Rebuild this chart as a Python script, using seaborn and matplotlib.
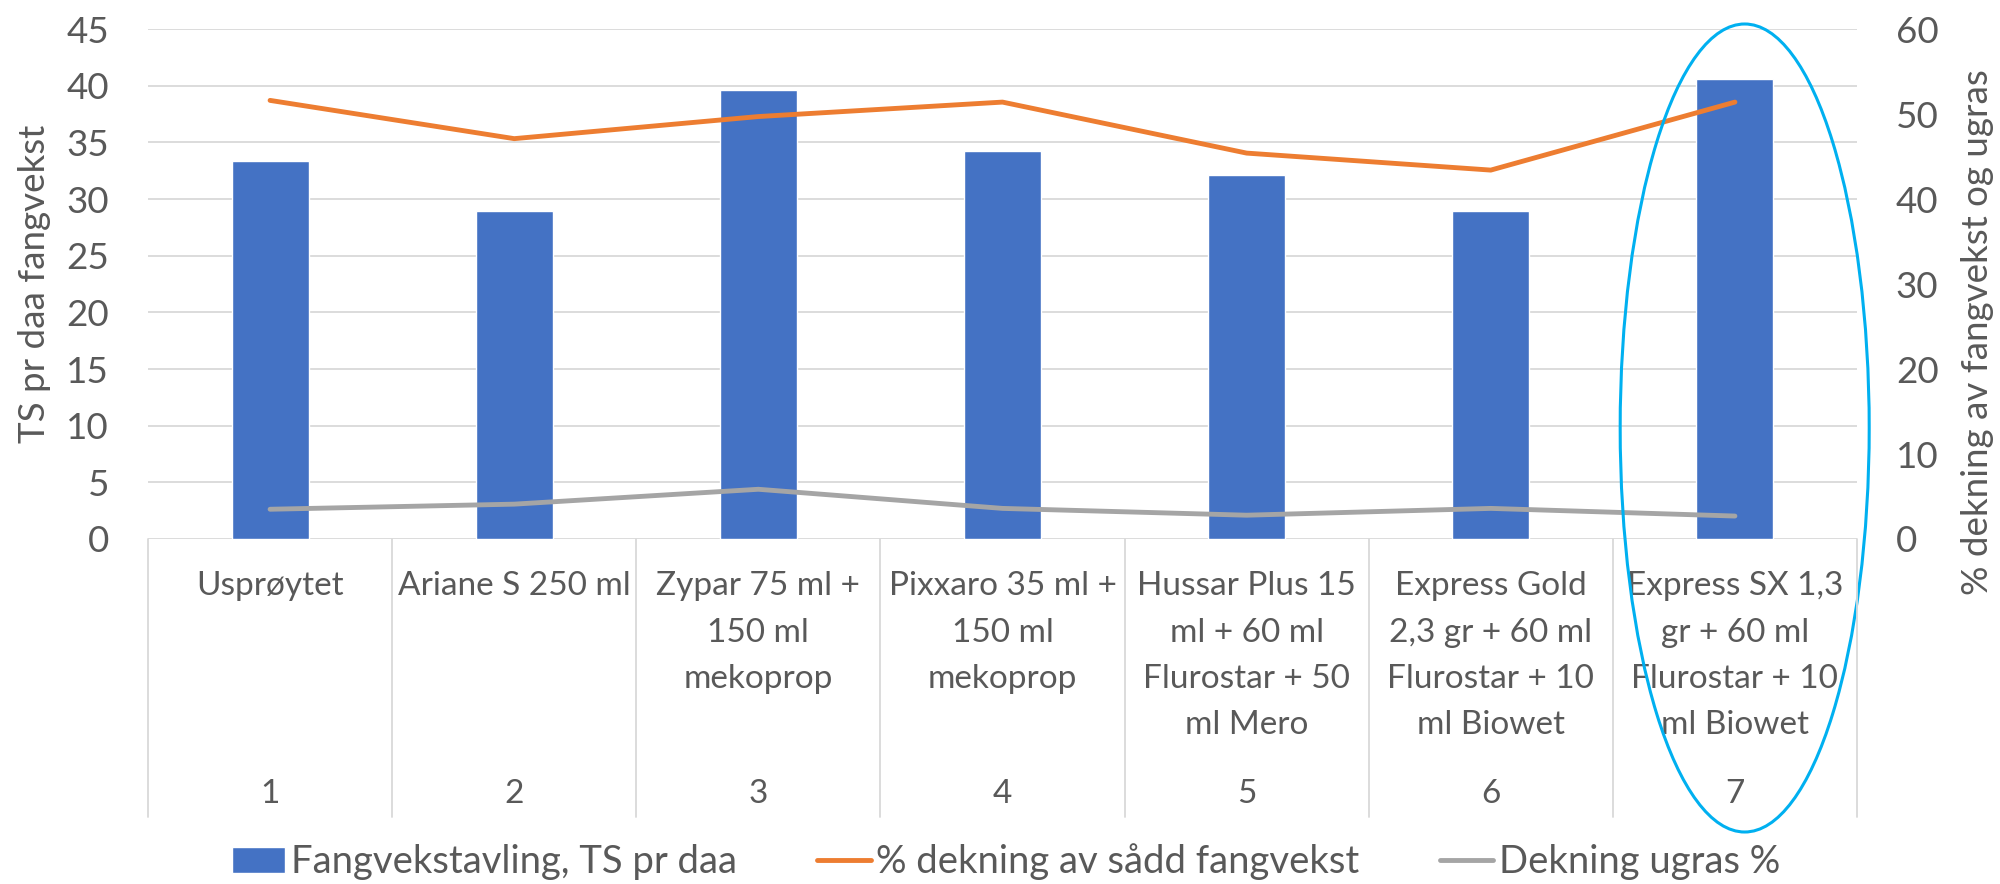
import numpy as np
import pandas as pd
import matplotlib
matplotlib.use("Agg")
import matplotlib.pyplot as plt
import matplotlib.transforms as mtransforms
from matplotlib.patches import Ellipse
from matplotlib.lines import Line2D
import seaborn as sns

# data
behandling = [
    "Usprøytet",
    "Ariane S 250 ml",
    "Zypar 75 ml +\n150 ml\nmekoprop",
    "Pixxaro 35 ml +\n150 ml\nmekoprop",
    "Hussar Plus 15\nml + 60 ml\nFlurostar + 50\nml Mero",
    "Express Gold\n2,3 gr + 60 ml\nFlurostar + 10\nml Biowet",
    "Express SX 1,3\ngr + 60 ml\nFlurostar + 10\nml Biowet",
]
ledd_nr = ["1", "2", "3", "4", "5", "6", "7"]
ts_pr_daa = [33.35, 28.9, 39.65, 34.25, 32.15, 28.95, 40.55]
dekning_fangvekst = [51.6, 47.1, 49.7, 51.4, 45.4, 43.4, 51.4]
dekning_ugras = [3.5, 4.1, 5.85, 3.6, 2.8, 3.6, 2.7]

BLUE = "#4472C4"
ORANGE = "#ED7D31"
GRAY = "#A5A5A5"
GRID = "#D9D9D9"
TXT = "#595959"
W, H = 2000, 884

sns.set_theme(style="white")
plt.rcParams["font.family"] = ["Lato", "DejaVu Sans"]

df = pd.DataFrame({
    "pos": range(len(ledd_nr)),
    "ts": ts_pr_daa,
    "fang": dekning_fangvekst,
    "ugras": dekning_ugras,
})

fig = plt.figure(figsize=(W / 100, H / 100), dpi=100)
ax = fig.add_axes([148 / W, 1 - 539 / H, (1857 - 148) / W, (539 - 29) / H])

sns.barplot(data=df, x="pos", y="ts", color=BLUE, saturation=1, width=0.315,
            ax=ax, label="Fangvekstavling, TS pr daa", zorder=2)
ax2 = ax.twinx()
sns.lineplot(data=df, x="pos", y="fang", ax=ax2, color=ORANGE, linewidth=3.5,
             solid_capstyle="round", label="% dekning av sådd fangvekst")
sns.lineplot(data=df, x="pos", y="ugras", ax=ax2, color=GRAY, linewidth=3.5,
             solid_capstyle="round", label="Dekning ugras %")
for a in (ax, ax2):
    if a.get_legend() is not None:
        a.get_legend().remove()

ax.set_xlim(-0.5, len(ledd_nr) - 0.5)
ax.set_ylim(0, 45)
ax.set_yticks(range(0, 46, 5))
ax2.set_ylim(0, 60)
ax2.set_yticks(range(0, 61, 10))
ax.yaxis.grid(True, color=GRID, linewidth=1.3)
ax.set_axisbelow(True)
ax2.grid(False)
for a in (ax, ax2):
    for s in a.spines.values():
        s.set_visible(False)
    a.set_xlabel("")
    a.set_ylabel("")
    a.tick_params(axis="y", length=0, pad=28, labelsize=26.5, labelcolor=TXT)
    a.tick_params(axis="x", bottom=False, labelbottom=False)

# axis titles
fig.text(35 / W, 1 - 284 / H, "TS pr daa fangvekst", rotation=90, ha="center",
         va="center", fontsize=26.5, color=TXT)
fig.text(1978 / W, 1 - 332 / H, "% dekning av fangvekst og ugras", rotation=90,
         ha="center", va="center", fontsize=26.5, color=TXT)

# category table under the plot
trans = mtransforms.blended_transform_factory(ax.transData, fig.transFigure)
for b in np.arange(-0.5, len(ledd_nr), 1):
    fig.add_artist(Line2D([b, b], [1 - 539 / H, 1 - 817 / H], transform=trans,
                          color=GRID, linewidth=1.3))
for i, (lab, nr) in enumerate(zip(behandling, ledd_nr)):
    for k, line in enumerate(lab.split("\n")):
        ax.text(i, 1 - (586 + 46.5 * k) / H, line, transform=trans, ha="center",
                va="center", fontsize=24, color=TXT)
    ax.text(i, 1 - 794 / H, nr, transform=trans, ha="center", va="center",
            fontsize=24, color=TXT)

# highlight ring around the last treatment
fig.add_artist(Ellipse((6.04, 1 - 428 / H), 1.02, 808 / H, transform=trans,
                       fill=False, edgecolor="#00B0F0", linewidth=2.2))

h1, l1 = ax.get_legend_handles_labels()
h2, l2 = ax2.get_legend_handles_labels()
fig.legend(h1 + h2, l1 + l2, loc="center", bbox_to_anchor=(1006 / W, 1 - 862 / H),
           ncol=3, frameon=False, fontsize=27.5, handlelength=1.4,
           handletextpad=0.15, columnspacing=2.1, labelcolor=TXT)

fig.savefig("out.png", dpi=100)
